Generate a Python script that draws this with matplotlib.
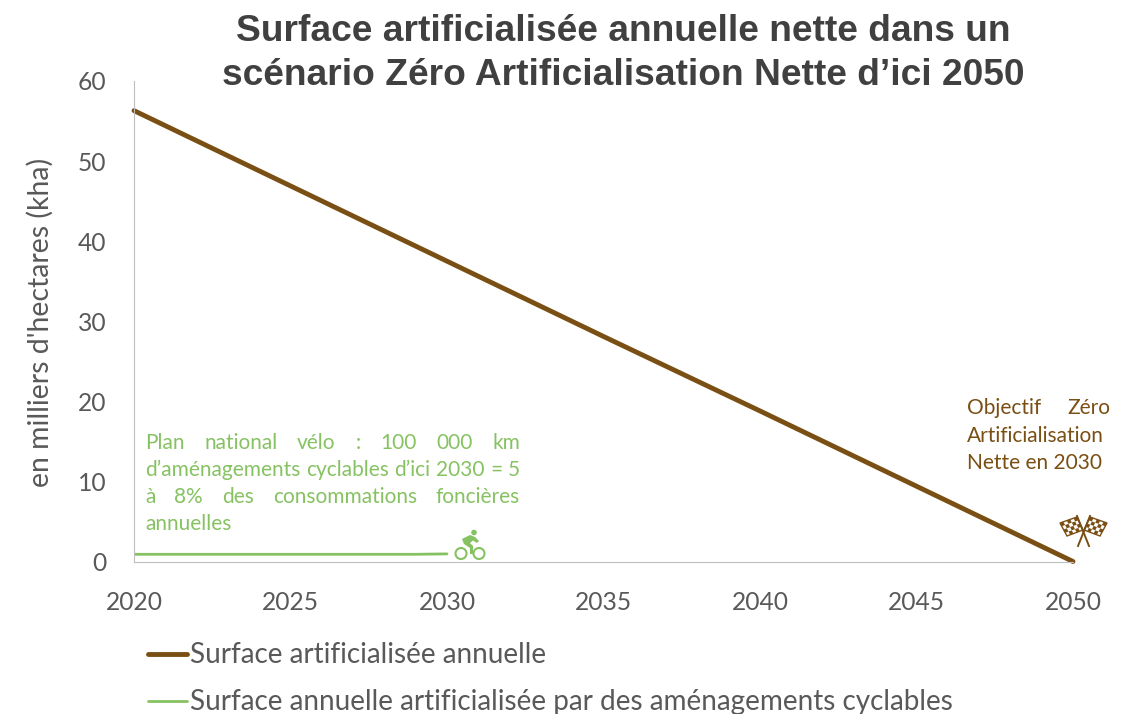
import matplotlib
matplotlib.use('Agg')
import matplotlib.pyplot as plt
from matplotlib.patches import Circle, Polygon

# values
years = [2020, 2025, 2030, 2035, 2040, 2045, 2050]
surface_totale = [56.3, 46.9, 37.5, 28.1, 18.8, 9.4, 0]
years_velo = [2020, 2025, 2029, 2030]
surface_velo = [0.9, 0.9, 0.9, 0.95]
x_ticks = [2020, 2025, 2030, 2035, 2040, 2045, 2050]
y_ticks = [0, 10, 20, 30, 40, 50, 60]

BROWN = '#7A4F14'
GREEN = '#86C262'
GREY = '#595959'
W, H = 1132, 714

plt.rcParams['font.family'] = ['Lato', 'DejaVu Sans']

fig = plt.figure(figsize=(W / 100, H / 100), dpi=100)
ax = fig.add_axes([134 / W, 1 - 561.5 / H, (1073 - 134) / W, (561.5 - 81) / H])
ax.plot(years, surface_totale, color=BROWN, lw=3.5, solid_capstyle='round', clip_on=False,
        label='Surface artificialisée annuelle')
ax.plot(years_velo, surface_velo, color=GREEN, lw=2, solid_capstyle='round',
        label='Surface annuelle artificialisée par des aménagements cyclables')
ax.set_xlim(2020, 2050)
ax.set_ylim(0, 60)
ax.set_xticks(x_ticks)
ax.set_yticks(y_ticks)
ax.tick_params(length=0, labelsize=17.7, labelcolor=GREY)
ax.tick_params(axis='x', pad=21)
ax.tick_params(axis='y', pad=20)
ax.spines['top'].set_visible(False)
ax.spines['right'].set_visible(False)
ax.spines['left'].set_color('#BFBFBF')
ax.spines['bottom'].set_color('#BFBFBF')
ax.set_ylabel("en milliers d'hectares (kha)", fontsize=20.4, color=GREY)
ax.yaxis.set_label_coords(-0.086, 0.498)

# overlay in pixel coordinates for text and icons
ov = fig.add_axes([0, 0, 1, 1], facecolor='none')
ov.set_xlim(0, W)
ov.set_ylim(H, 0)
ov.axis('off')

title_font = dict(family='Liberation Sans', fontweight='bold', fontsize=26.7,
                  color='#404040', ha='center', va='baseline')
ov.text(623, 41, 'Surface artificialisée annuelle nette dans un', **title_font)
ov.text(623, 85, 'scénario Zéro Artificialisation Nette d’ici 2050', **title_font)

# legend, placed by hand like the original
ov.plot([148, 187], [654, 654], color=BROWN, lw=3.5, solid_capstyle='round')
ov.plot([148, 187], [701, 701], color=GREEN, lw=2, solid_capstyle='round')
ov.text(190, 663, 'Surface artificialisée annuelle', fontsize=20.1, color=GREY, va='baseline')
ov.text(190, 710, 'Surface annuelle artificialisée par des aménagements cyclables',
        fontsize=20.1, color=GREY, va='baseline')


def justified(words, x0, x1, y, color, size):
    # spreads the words of one line between x0 and x1
    renderer = fig.canvas.get_renderer()
    items = [ov.text(0, y, w, fontsize=size, color=color, va='baseline') for w in words]
    widths = [t.get_window_extent(renderer).width for t in items]
    gap = (x1 - x0 - sum(widths)) / (len(words) - 1)
    x = x0
    for t, width in zip(items, widths):
        t.set_x(x)
        x += width + gap


velo_lines = ['Plan national vélo : 100 000 km',
              'd’aménagements cyclables d’ici 2030 = 5',
              'à 8% des consommations foncières']
for i, line in enumerate(velo_lines):
    justified(line.split(), 145, 520, 449 + i * 27, GREEN, 15)
ov.text(145, 530, 'annuelles', fontsize=15, color=GREEN, va='baseline')

justified(['Objectif', 'Zéro'], 967, 1110, 414, BROWN, 15)
ov.text(967, 442, 'Artificialisation', fontsize=15, color=BROWN, va='baseline')
ov.text(967, 469, 'Nette en 2030', fontsize=15, color=BROWN, va='baseline')

# bike icon
for cx in (461, 479):
    ov.add_patch(Circle((cx, 553.5), 5.5, fill=False, ec=GREEN, lw=1.5))
ov.add_patch(Circle((474, 532.5), 2.8, color=GREEN, lw=0))
ov.add_patch(Polygon([(462, 539), (470, 535), (475, 537), (479, 541), (477, 543), (473, 540.5),
                      (470, 543), (473, 546), (473, 554), (470, 554), (470, 548), (464, 544)],
                     closed=True, color=GREEN, lw=0))


def flag(corners, cols=5, rows=4):
    # checkered flag between four corners: top left, top right, bottom right, bottom left
    tl, tr, br, bl = corners

    def pt(u, v):
        top = (tl[0] + (tr[0] - tl[0]) * u, tl[1] + (tr[1] - tl[1]) * u)
        bot = (bl[0] + (br[0] - bl[0]) * u, bl[1] + (br[1] - bl[1]) * u)
        return (top[0] + (bot[0] - top[0]) * v, top[1] + (bot[1] - top[1]) * v)

    ov.add_patch(Polygon(corners, closed=True, fc='white', ec=BROWN, lw=1))
    for c in range(cols):
        for r in range(rows):
            if (c + r) % 2 == 0:
                cell = [pt(c / cols, r / rows), pt((c + 1) / cols, r / rows),
                        pt((c + 1) / cols, (r + 1) / rows), pt(c / cols, (r + 1) / rows)]
                ov.add_patch(Polygon(cell, closed=True, color=BROWN, lw=0))


flag([(1060, 523), (1077, 517), (1083, 530), (1067, 536)])
flag([(1090, 517), (1107, 523), (1100, 536), (1084, 530)])
ov.plot([1077, 1089], [516, 546], color=BROWN, lw=1.4)
ov.plot([1090, 1078], [516, 546], color=BROWN, lw=1.4)

fig.savefig('out.png', dpi=100)
